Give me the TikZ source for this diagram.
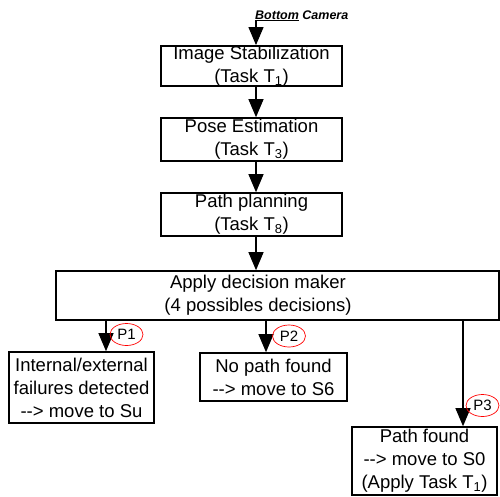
\documentclass[tikz,border=0pt]{standalone}
\usepackage{fontspec}
\setmainfont{Liberation Sans}
\usepackage{tikz}
\usetikzlibrary{arrows.meta,shapes.geometric}
\newcommand{\diagfont}{\fontsize{18.5}{23}\selectfont}
\newcommand{\tagfont}{\fontsize{15}{15}\selectfont}

\begin{document}
\begin{tikzpicture}[
  x=1pt, y=-1pt,
  stagebox/.style ={draw, line width=1.6pt, inner sep=0pt, align=center, font=\diagfont},
  plaintxt/.style ={inner sep=0pt, align=center, font=\diagfont},
  flow/.style     ={line width=1.1pt, -{Triangle[length=18pt, width=15pt]}},
  pmark/.style    ={ellipse, draw=red, line width=0.7pt, minimum width=33pt, minimum height=22pt, inner sep=0pt, font=\tagfont},
]
\useasboundingbox (0,0) rectangle (500,496);
\def\xspine{256}
\def\xa{106}\def\xb{266}\def\xc{463}
\coordinate (spine) at (\xspine,0);
\coordinate (ba) at (\xa,0);
\coordinate (bb) at (\xb,0);
\coordinate (bc) at (\xc,0);
% camera input
\node[inner sep=0pt, anchor=base west, font=\fontsize{12.5}{15}\selectfont\bfseries\itshape] (cam) at (255,19) {\underline{Bottom} Camera};
% task chain
\node[stagebox, minimum width=181pt, minimum height=40pt] (stab) at (251.5,66) {Image Stabilization\\(Task T\textsubscript{1})};
\node[stagebox, minimum width=181pt, minimum height=43pt] (pose) at (251.5,139.5) {Pose Estimation\\(Task T\textsubscript{3})};
\node[stagebox, minimum width=181pt, minimum height=43pt] (plan) at (251.5,214.5) {Path planning\\(Task T\textsubscript{8})};
% decision maker
\node[stagebox, minimum width=443pt, minimum height=49pt] (dec) at (277.5,295.5) {};
\node[plaintxt] (dectxt) at (258,295.5) {Apply decision maker\\(4 possibles decisions)};
% outcomes
\node[stagebox, minimum width=145pt, minimum height=71pt] (fail) at (81.5,387.5) {Internal/external\\failures detected\\{-}{-}> move to Su};
\node[stagebox, minimum width=147pt, minimum height=48pt] (nopath) at (273.5,377) {No path found\\{-}{-}> move to S6};
\node[stagebox, minimum width=145pt, minimum height=68pt] (found) at (424.5,461) {Path found\\{-}{-}> move to S0\\(Apply Task T\textsubscript{1})};
% arrows
\draw[flow] (cam.south -| spine) -- (stab.north -| spine);
\draw[flow] (stab.south -| spine) -- (pose.north -| spine);
\draw[flow] (pose.south -| spine) -- (plan.north -| spine);
\draw[flow] (plan.south -| spine) -- (dec.north -| spine);
\draw[flow] (dec.south -| ba) -- (fail.north -| ba);
\draw[flow] (dec.south -| bb) -- (nopath.north -| bb);
\draw[flow] (dec.south -| bc) -- (found.north -| bc);
% decision tags
\node[pmark] (pa) at (126.5,334.5) {P1};
\node[pmark] (pb) at (289,336) {P2};
\node[pmark] (pc) at (482.5,405.5) {P3};
\end{tikzpicture}
\end{document}
